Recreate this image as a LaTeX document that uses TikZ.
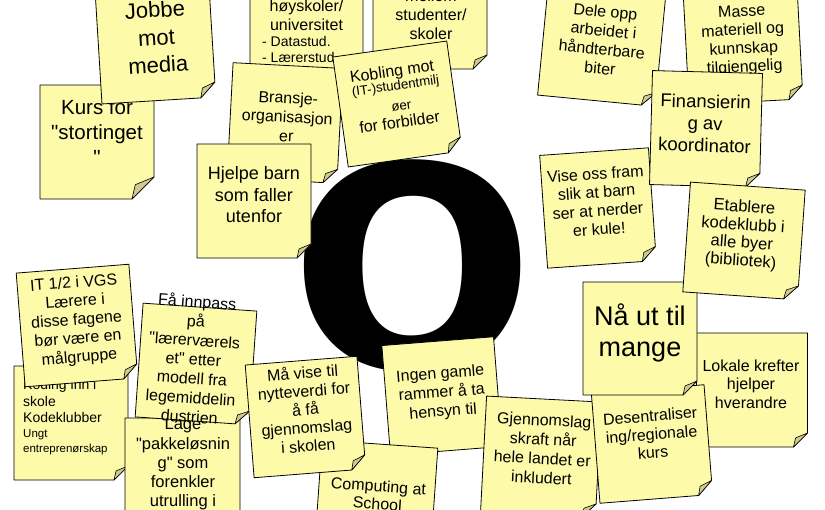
\documentclass[tikz,border=0pt]{standalone}
\usepackage{fontspec}
\setmainfont{Liberation Sans}
\definecolor{notefill}{RGB}{253,250,170}
\definecolor{foldfill}{RGB}{208,203,140}
\tikzset{
  notepaper/.style={fill=notefill, draw=black, line width=0.8pt, line join=round},
  notefold/.style={fill=foldfill, draw=black, line width=0.6pt, line join=round},
  notetxt/.style={anchor=base, inner sep=0pt, transform shape, text=black},
  notetxtl/.style={anchor=base west, inner sep=0pt, transform shape, text=black},
}
\newcommand\qd{\textquotedbl{}}
% #1 width, #2 height, #3 fold size (local coords, y down, origin = note centre)
\newcommand\stickypaper[3]{%
  \path[notepaper] (-#1/2,-#2/2) -- (#1/2,-#2/2) -- (#1/2,#2/2-#3) -- (#1/2-#3,#2/2) -- (-#1/2,#2/2) -- cycle;
  \path[notefold] (#1/2,#2/2-#3) -- (#1/2-#3,#2/2) .. controls (#1/2-0.95*#3,#2/2-0.3*#3) .. (#1/2-0.85*#3,#2/2-0.65*#3) -- cycle;}
% #1 x, #2 first baseline, #3 font size, #4 line spacing, #5 name prefix, #6 lines
\newcommand\notelines[6]{%
  \foreach \tline [count=\lnum from 0] in {#6} {%
    \node[notetxt, font=\fontsize{#3}{#3}\selectfont] (#5-\lnum) at (#1,{#2+\lnum*#4}) {\tline};}}
\begin{document}
\begin{tikzpicture}[x=1pt,y=-1pt]
\useasboundingbox (0,0) rectangle (825,510);
\fill[white] (0,0) rectangle (825,510);
\clip (0,0) rectangle (825,510);

% big letter
\node[inner sep=0pt, anchor=base, font=\fontsize{388}{388}\selectfont\bfseries] (bigo) at (413,369) {\scalebox{1.047}[1]{o}};

% Kurs for stortinget
\begin{scope}[shift={(97,142)}]
  \stickypaper{114}{114}{22}
  \notelines{0}{-27}{20.5}{25}{kurs}{Kurs for, \qd stortinget, \qd}
\end{scope}
% Jobbe mot media
\begin{scope}[shift={(155.4,43.6)}, rotate=3.5]
  \stickypaper{114}{114}{15}
  \notelines{1.5}{-26}{22}{27.5}{jobbe}{Jobbe, mot, media}
\end{scope}
% hoyskoler
\begin{scope}[shift={(306.5,17)}]
  \stickypaper{113}{114}{14}
  \notelines{0}{-5}{16}{19}{hoy}{høyskoler/, universitet}
  \node[notetxtl, font=\fontsize{14}{14}\selectfont] (hoy-b1) at (-44.5,30) {- Datastud.};
  \node[notetxtl, font=\fontsize{14}{14}\selectfont] (hoy-b2) at (-44.5,46) {- Lærerstud};
\end{scope}
% mellom studenter/skoler
\begin{scope}[shift={(430,12)}]
  \stickypaper{114}{114}{14}
  \notelines{1}{-10}{16}{19}{mellom}{mellom, studenter/, skoler}
\end{scope}
% Bransje
\begin{scope}[shift={(285,123)}, rotate=-3]
  \stickypaper{110}{115}{14}
  \notelines{2}{-19.5}{16}{19}{bransje}{Bransje-, organisasjon, er}
\end{scope}
% Kobling
\begin{scope}[shift={(397.5,104)}, rotate=8]
  \stickypaper{115}{111}{14}
  \node[notetxt, font=\fontsize{16}{16}\selectfont] (kob-0) at (-1,-27.5) {Kobling mot};
  \node[notetxt, font=\fontsize{13.3}{13.3}\selectfont] (kob-1) at (0.5,-14) {(IT-)studentmilj};
  \node[notetxt, font=\fontsize{13.3}{13.3}\selectfont] (kob-2) at (3.5,7) {øer};
  \node[notetxt, font=\fontsize{16}{16}\selectfont] (kob-3) at (-0.5,24) {for forbilder};
\end{scope}
% Hjelpe barn
\begin{scope}[shift={(254,201)}]
  \stickypaper{114}{114}{14}
  \notelines{0}{-21}{18}{21.5}{hjelpe}{Hjelpe barn, som faller, utenfor}
\end{scope}
% Dele opp
\begin{scope}[shift={(602,42)}, rotate=-5.5]
  \stickypaper{118}{118}{14}
  \notelines{0.5}{-25}{16}{19}{dele}{Dele opp, arbeidet i, håndterbare, biter}
\end{scope}
% Masse
\begin{scope}[shift={(743,45)}, rotate=3]
  \stickypaper{114}{114}{14}
  \notelines{0.5}{-28.5}{16}{18.5}{masse}{Masse, materiell og, kunnskap, tilgjengelig}
\end{scope}
% Vise oss fram
\begin{scope}[shift={(598,208)}, rotate=4]
  \stickypaper{109}{113}{14}
  \notelines{-0.3}{-28.5}{16}{18.5}{vise}{Vise oss fram, slik at barn, ser at nerder, er kule!}
\end{scope}
% Finansiering
\begin{scope}[shift={(706,129)}, rotate=-1.5]
  \stickypaper{110}{114}{14}
  \notelines{-1}{-21}{18.5}{22}{fin}{Finansierin, g av, koordinator}
\end{scope}
% Lokale krefter
\begin{scope}[shift={(752,390)}]
  \stickypaper{111}{114}{14}
  \notelines{-1}{-18.3}{16}{18.3}{lokale}{Lokale krefter, hjelper, hverandre}
\end{scope}
% Ingen gamle rammer
\begin{scope}[shift={(442,396)}, rotate=4.5]
  \stickypaper{112}{110}{14}
  \notelines{0}{-17.5}{16}{19}{ingen}{Ingen gamle, rammer å ta, hensyn til}
\end{scope}
% Gjennomslagskraft
\begin{scope}[shift={(541,457)}, rotate=-3]
  \stickypaper{115}{116}{14}
  \notelines{1.4}{-31.4}{16}{19.3}{gjen}{Gjennomslag, skraft når, hele landet er, inkludert}
\end{scope}
% Desentralisering
\begin{scope}[shift={(652,444)}, rotate=4.5]
  \stickypaper{113}{110}{14}
  \notelines{0.3}{-22.5}{16}{18.5}{desen}{Desentraliser, ing/regionale, kurs}
\end{scope}
% Naa ut til mange
\begin{scope}[shift={(640,338.5)}]
  \stickypaper{114}{113}{14}
  \notelines{0}{-12.5}{27}{31}{naa}{Nå ut til, mange}
\end{scope}
% Etablere kodeklubb
\begin{scope}[shift={(744,241)}, rotate=-4]
  \stickypaper{115}{110}{14}
  \notelines{-2}{-28.8}{16.5}{18}{etab}{Etablere, kodeklubb i, alle byer, (bibliotek)}
\end{scope}
% Koding inn i skole
\begin{scope}[shift={(71,423)}]
  \stickypaper{114}{114}{14}
  \node[notetxtl, font=\fontsize{14}{14}\selectfont] (kod-0) at (-48,-33) {Koding inn i};
  \node[notetxtl, font=\fontsize{14}{14}\selectfont] (kod-1) at (-48,-16.3) {skole};
  \node[notetxtl, font=\fontsize{14}{14}\selectfont] (kod-2) at (-48,-0.3) {Kodeklubber};
  \node[notetxtl, font=\fontsize{11.5}{11.5}\selectfont] (kod-3) at (-48,14.3) {Ungt};
  \node[notetxtl, font=\fontsize{11.5}{11.5}\selectfont] (kod-4) at (-48,29.7) {entreprenørskap};
\end{scope}
% IT 1/2 i VGS
\begin{scope}[shift={(77,325.5)}, rotate=4.5]
  \stickypaper{113}{114}{14}
  \notelines{0}{-37.7}{16}{18.6}{it}{IT 1/2 i VGS, Lærere i, disse fagene, bør være en, målgruppe}
\end{scope}
% Lage pakkelosning
\begin{scope}[shift={(182.5,475)}]
  \stickypaper{115}{114}{14}
  \notelines{0.5}{-45}{16.5}{19.2}{lage}{Lage, \qd pakkeløsnin, g\qd\ som, forenkler, utrulling i}
\end{scope}
% Faa innpass
\begin{scope}[shift={(196,364)}, rotate=-4]
  \stickypaper{114}{114}{14}
  \notelines{-3}{-56.4}{16}{19.2}{faa}{Få innpass, på, \qd lærerværels, et\qd\ etter, modell fra, legemiddelin, dustrien}
\end{scope}
% Computing at School
\begin{scope}[shift={(376,501)}, rotate=-4]
  \stickypaper{116}{114}{14}
  \notelines{1.5}{-9.5}{16}{18}{cas}{Computing at, School}
\end{scope}
% Maa vise til nytteverdi
\begin{scope}[shift={(305.5,417)}, rotate=4.5]
  \stickypaper{112}{113}{14}
  \notelines{0.5}{-38.4}{16}{18.3}{maa}{Må vise til, nytteverdi for, å få, gjennomslag, i skolen}
\end{scope}
\end{tikzpicture}
\end{document}
